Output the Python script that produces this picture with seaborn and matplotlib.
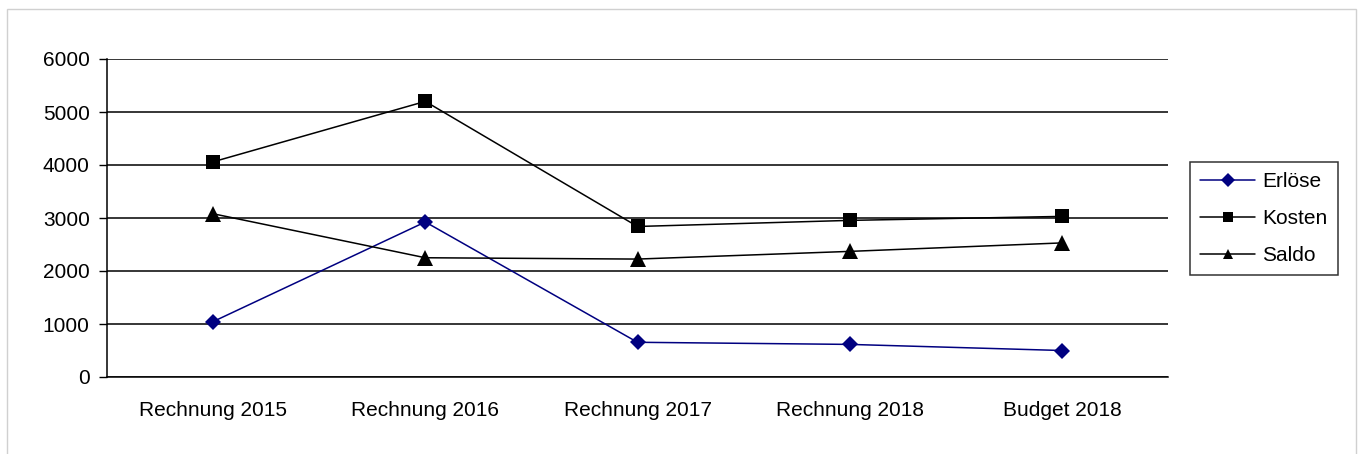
import pandas as pd
import matplotlib.pyplot as plt
import seaborn as sns
from matplotlib.patches import Rectangle

# データ
kategorien = ['Rechnung 2015', 'Rechnung 2016', 'Rechnung 2017', 'Rechnung 2018', 'Budget 2018']
erloese = [1045, 2925, 655, 615, 500]
kosten = [4060, 5200, 2840, 2955, 3030]
saldo = [3080, 2250, 2225, 2370, 2530]
serien = ['Erlöse', 'Kosten', 'Saldo']

data = pd.DataFrame({
    'Kategorie': kategorien * 3,
    'Wert': erloese + kosten + saldo,
    'Serie': [s for s in serien for _ in kategorien],
})

sns.set_style('white')
plt.rcParams['font.family'] = ['Liberation Sans', 'DejaVu Sans']
plt.rcParams['font.size'] = 15
plt.rcParams['text.color'] = 'black'
plt.rcParams['xtick.color'] = 'black'
plt.rcParams['ytick.color'] = 'black'

fig = plt.figure(figsize=(13.59, 4.54), dpi=100)
ax = fig.add_axes([107 / 1359, 1 - 377 / 454, (1168 - 107) / 1359, (377 - 59) / 454])

sns.lineplot(data=data, x='Kategorie', y='Wert', hue='Serie', style='Serie',
             palette={'Erlöse': '#000080', 'Kosten': 'black', 'Saldo': 'black'},
             markers={'Erlöse': 'D', 'Kosten': 's', 'Saldo': '^'},
             dashes=False, markersize=9, linewidth=1.1, markeredgewidth=0,
             ax=ax, legend=True)

# マーカーの大きさを調整
groessen = {'D': 8, 's': 10, '^': 11}
for line in ax.lines:
    m = line.get_marker()
    if m in groessen:
        line.set_markersize(groessen[m])

# 軸の設定
ax.set_xlim(-0.5, 4.5)
ax.set_ylim(0, 6000)
ax.set_yticks(range(0, 6001, 1000))
ax.set_xticks(range(5))
ax.set_xticklabels(kategorien)
ax.set_xticks([i - 0.5 for i in range(6)], minor=True)
ax.tick_params(axis='x', which='major', length=0, pad=17.5, labelsize=15)
ax.tick_params(axis='x', which='minor', length=5.5, width=1, color='black', direction='out')
ax.tick_params(axis='y', length=5.5, width=1, color='black', direction='out', pad=7,
               left=True, labelsize=15)
ax.set_xlabel('')
ax.set_ylabel('')
ax.grid(axis='y', color='black', linewidth=1.1)
ax.set_axisbelow(True)
for side in ['top', 'right']:
    ax.spines[side].set_visible(False)
for side in ['left', 'bottom']:
    ax.spines[side].set_color('black')
    ax.spines[side].set_linewidth(1.1)

# 凡例
leg = ax.legend(loc='center left', bbox_to_anchor=(1190 / 1359, 1 - 218.5 / 454),
                bbox_transform=fig.transFigure, frameon=True, fancybox=False,
                edgecolor='black', fontsize=15, handlelength=2.6,
                handletextpad=0.35, labelspacing=0.86, borderpad=0.5,
                borderaxespad=0)
leg.get_frame().set_linewidth(1.1)
for h in leg.legend_handles:
    h.set_markersize(7.5)

# 外枠
fig.patches.append(Rectangle((7 / 1359, -0.05), (1356 - 7) / 1359, 1.05 - 9 / 454,
                             transform=fig.transFigure, fill=False,
                             edgecolor='#d0d0d0', linewidth=1))

fig.savefig('out.png', dpi=100)
